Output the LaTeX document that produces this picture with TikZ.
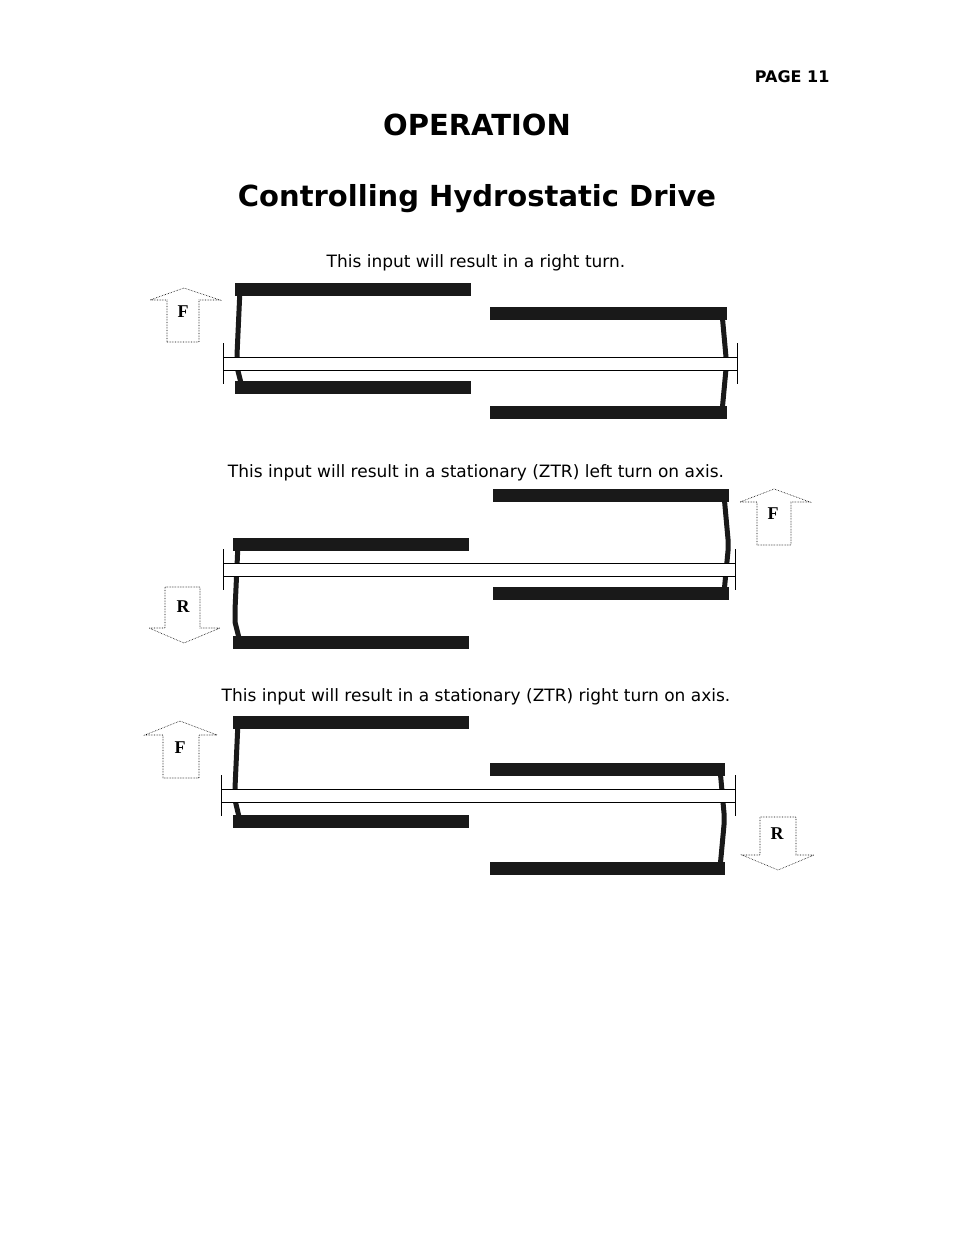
\documentclass[tikz,border=0pt]{standalone}
\usepackage{fontspec}
\setmainfont{DejaVu Sans}
\newfontfamily\serifbold{Liberation Serif}
\tikzset{
  bar/.style={fill=black!90},
  arm/.style={draw=black!90, line width=5pt, line join=miter},
  shaft/.style={draw, fill=white, line width=0.6pt},
  tick/.style={line width=0.6pt},
  pedal/.style={draw, densely dotted, line width=0.6pt, fill=white},
  caption/.style={font=\fontsize{17}{20}\selectfont},
  pedlabel/.style={font=\serifbold\bfseries\fontsize{18}{20}\selectfont}
}
% #1 x left, #2 x right, #3 top bar y, #4 bottom bar y
\newcommand{\lefthandle}[4]{
  \fill[bar] (#1,#3) rectangle (#2,#3+13);
  \fill[bar] (#1,#4) rectangle (#2,#4+13);
  \draw[arm] (#1+5,#3+6) -- (#1+2,#3+72) -- (#1+2,#3+84) -- (#1+7,#4+6);
}
\newcommand{\righthandle}[4]{
  \fill[bar] (#1,#3) rectangle (#2,#3+13);
  \fill[bar] (#1,#4) rectangle (#2,#4+13);
  \draw[arm] (#2-5,#3+6) -- (#2-1,#3+50) -- (#2-1,#3+62) -- (#2-5,#4+6);
}
% #1 x left, #2 x right, #3 y top
\newcommand{\axle}[3]{
  \draw[shaft] (#1,#3) rectangle (#2,#3+13);
  \draw[tick] (#1,#3-14) -- (#1,#3+27);
  \draw[tick] (#2,#3-14) -- (#2,#3+27);
}
\begin{document}
\begin{tikzpicture}[x=1pt, y=-1pt]
\useasboundingbox (0,0) rectangle (954,1235);
% Headings
\node[anchor=east, font=\bfseries\fontsize{16}{18}\selectfont] (page) at (833,77) {PAGE 11};
\node[font=\bfseries\fontsize{29}{32}\selectfont] (op) at (477,125) {OPERATION};
\node[font=\bfseries\fontsize{29}{32}\selectfont] (title) at (477,199) {Controlling Hydrostatic Drive};
% Right turn
\node[caption] (capA) at (476,263) {This input will result in a right turn.};
\lefthandle{235}{471}{283}{381}
\righthandle{490}{727}{307}{406}
\axle{223}{737}{357}
\draw[pedal] (167,342) -- (167,300) -- (150,300) -- (184,288) -- (220,300) -- (199,300) -- (199,342) -- cycle;
\node[pedlabel] (fA) at (183,312) {F};
% Stationary left turn
\node[caption] (capB) at (476,473) {This input will result in a stationary (ZTR) left turn on axis.};
\lefthandle{233}{469}{538}{636}
\righthandle{493}{729}{489}{587}
\axle{223}{735}{563}
\draw[pedal] (757,545) -- (757,502) -- (740,502) -- (774,489) -- (810,502) -- (791,502) -- (791,545) -- cycle;
\node[pedlabel] (fB) at (773,514) {F};
\draw[pedal] (165,587) -- (165,628) -- (149,628) -- (184,643) -- (220,628) -- (200,628) -- (200,587) -- cycle;
\node[pedlabel] (rB) at (183,607) {R};
% Stationary right turn
\node[caption] (capC) at (476,697) {This input will result in a stationary (ZTR) right turn on axis.};
\lefthandle{233}{469}{716}{815}
\righthandle{490}{725}{763}{862}
\axle{221}{735}{789}
\draw[pedal] (163,778) -- (163,735) -- (145,735) -- (180,721) -- (217,735) -- (199,735) -- (199,778) -- cycle;
\node[pedlabel] (fC) at (180,748) {F};
\draw[pedal] (760,817) -- (760,855) -- (742,855) -- (778,870) -- (814,855) -- (796,855) -- (796,817) -- cycle;
\node[pedlabel] (rC) at (777,834) {R};
\end{tikzpicture}
\end{document}
